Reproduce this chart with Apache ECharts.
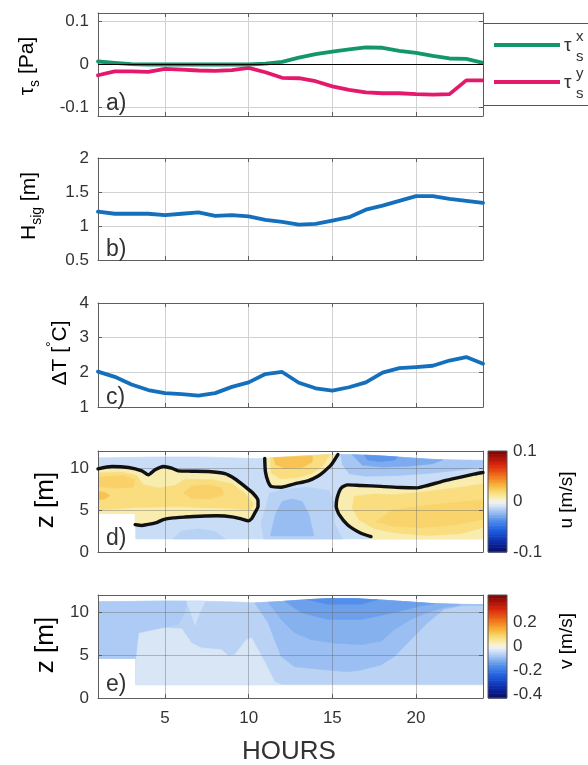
<!DOCTYPE html>
<html>
<head>
<meta charset="utf-8">
<script src="https://cdn.jsdelivr.net/npm/echarts@6/dist/echarts.min.js"></script>
<style>
  html, body { margin: 0; padding: 0; background: #ffffff; }
  #chart { width: 588px; height: 765px; }
</style>
</head>
<body>
<div id="chart"></div>
<script>
// ---------- time series (hourly) ----------
const hours  = [1, 2, 3, 4, 5, 6, 7, 8, 9, 10, 11, 12, 13, 14, 15, 16, 17, 18, 19, 20, 21, 22, 23, 24];
const tauX   = [0.007, 0.004, 0.001, 0.000, 0.000, 0.000, 0.000, 0.000, 0.000, 0.000, 0.002, 0.006,
                0.016, 0.024, 0.030, 0.035, 0.040, 0.039, 0.032, 0.027, 0.020, 0.014, 0.013, 0.004];
const tauY   = [-0.025, -0.016, -0.016, -0.017, -0.010, -0.012, -0.014, -0.015, -0.013, -0.008, -0.018, -0.031,
                -0.032, -0.039, -0.051, -0.059, -0.065, -0.067, -0.067, -0.069, -0.070, -0.069, -0.037, -0.037];
const hsig   = [1.21, 1.18, 1.18, 1.18, 1.16, 1.18, 1.20, 1.15, 1.16, 1.14, 1.09, 1.06,
                1.02, 1.03, 1.08, 1.13, 1.24, 1.30, 1.37, 1.44, 1.44, 1.40, 1.37, 1.34];
const deltaT = [2.02, 1.87, 1.65, 1.49, 1.40, 1.37, 1.33, 1.40, 1.58, 1.71, 1.95, 2.01,
                1.70, 1.54, 1.47, 1.57, 1.71, 1.99, 2.12, 2.15, 2.19, 2.34, 2.44, 2.25];

// ---------- axis ticks ----------
const hourTicks = [5, 10, 15, 20];
const tauTicks  = [-0.1, 0, 0.1];
const hsTicks   = [0.5, 1, 1.5, 2];
const dtTicks   = [1, 2, 3, 4];
const zTicks    = [0, 5, 10];
const uTicks    = [-0.1, 0, 0.1];
const vTicks    = [-0.4, -0.2, 0, 0.2];
const uRange    = [-0.1, 0.1];
const vRange    = [-0.43, 0.43];

// ---------- velocity sections: [hour, z] outlines ----------
const surfaceTop     = [[1, 11.2], [3, 11.25], [5, 11.3], [7, 11.3], [9, 11.2], [10.5, 11.1], [12, 11.25], [13.5, 11.45],
                        [15, 11.6], [16.5, 11.55], [18, 11.4], [19.5, 11.2], [21, 11.0], [22.5, 10.92], [24, 10.88]];
const coverageBottom = [[24, 1.55], [3.25, 1.55], [3.25, 4.6], [1, 4.6]];
const coverage       = surfaceTop.concat(coverageBottom);

// u = 0 contours
const uZeroA = [[1, 9.88], [1.83, 10.16], [2.82, 10.04], [3.62, 9.64], [4.01, 9.17], [4.41, 9.76], [4.91, 10.16],
                [5.4, 9.96], [5.8, 9.64], [6.59, 9.6], [7.59, 9.56], [8.58, 9.3], [9.17, 8.7], [9.77, 7.8], [10.26, 6.98],
                [10.56, 6.1], [10.56, 5.4], [10.36, 4.6], [10.17, 3.95], [9.97, 3.7], [9.6, 3.9], [9.1, 4.15],
                [8.1, 4.3], [7.1, 4.25], [6.2, 4.15], [5.5, 4.05], [4.9, 3.85], [4.5, 3.5], [3.91, 3.25], [3.62, 3.15], [3.22, 3.25]];
const uZeroB = [[10.96, 11.12], [11.0, 9.56], [11.16, 8.37], [11.36, 7.78], [11.95, 7.7], [12.74, 8.1], [13.54, 8.45],
                [14.13, 9.0], [14.53, 9.6], [14.93, 10.36], [15.33, 11.58]];
const uZeroC = [[17.31, 1.83], [16.71, 2.23], [15.92, 3.21], [15.42, 4.4], [15.23, 5.4], [15.28, 6.39], [15.52, 7.58],
                [15.92, 7.98], [16.71, 7.9], [17.9, 7.8], [19.1, 7.66], [20.09, 7.62], [20.68, 7.9], [21.67, 8.45],
                [22.67, 8.9], [23.46, 9.25], [24, 9.45]];

// u fill patches
const uBlobA     = uZeroA.concat([[3.22, 4.6], [1, 4.6]]);
const uBlobB     = uZeroB.concat([[15, 11.6], [13.5, 11.45], [12, 11.25]]);
const uBlobC     = [[17.31, 1.55]].concat(uZeroC, [[24, 1.55]]);
const uCoreA     = [[1, 9.4], [2.4, 9.5], [3.3, 9.1], [3.7, 8.0], [4.6, 7.6], [5.6, 7.9], [6.2, 8.6], [7.8, 8.6],
                    [9.0, 8.1], [9.8, 6.9], [10.3, 5.7], [10.1, 5.0], [8.8, 5.2], [7, 5.3], [5.8, 5.4], [3.2, 5.3], [1, 5.0]];
const uSpotA1    = [[1, 6.2], [1.4, 6.3], [1.7, 6.7], [1.4, 7.1], [1, 7.2]];
const uSpotA2    = [[6.1, 7.0], [6.6, 7.8], [7.6, 8.0], [8.4, 7.6], [8.5, 6.8], [7.6, 6.3], [6.6, 6.4]];
const uSpotA3    = [[1, 8.9], [2.5, 9.1], [3.2, 8.6], [3.1, 7.7], [2.0, 7.6], [1, 7.8]];
const uCoreB     = [[11.3, 11.2], [11.35, 9.4], [11.9, 8.7], [12.9, 8.85], [13.8, 9.35], [14.45, 10.3], [14.85, 11.58],
                    [13.5, 11.45], [12, 11.25]];
const uSpotB     = [[11.5, 11.22], [11.6, 10.4], [12.2, 9.95], [13.2, 10.05], [13.8, 10.7], [13.8, 11.42], [12.5, 11.3]];
const uCoreC     = [[16.3, 6.6], [17.5, 6.9], [18.7, 6.8], [20.7, 7.2], [22.7, 7.7], [24, 8.1], [24, 2.9], [22.7, 2.2],
                    [20.7, 1.95], [18.7, 2.3], [17.5, 2.8], [16.6, 3.8], [16.2, 5.2]];
const uSpotC     = [[17.6, 3.6], [18.6, 5.0], [20.5, 5.5], [22.5, 5.9], [24, 6.2], [24, 3.9], [22.2, 3.2], [20.2, 2.9], [18.6, 3.1]];
const uBlueLowL  = [[5.5, 1.55], [6, 2.5], [7, 2.75], [8, 2.45], [8.6, 1.55]];
const uBlueMid   = [[10.9, 1.55], [10.75, 3.5], [11.05, 5.5], [11.25, 7.0], [12.0, 7.4], [13.5, 7.7], [14.8, 7.3],
                    [15.15, 5.5], [15.1, 3.5], [15.6, 1.55]];
const uBlueCore  = [[11.3, 1.9], [11.6, 4.5], [12.0, 6.0], [12.6, 6.3], [13.2, 6.0], [13.6, 4.5], [13.9, 1.9]];
const uBlueTopR  = [[15.5, 11.6], [16.5, 11.55], [18, 11.4], [19.5, 11.2], [21, 11.0], [22.5, 10.92], [24, 10.88],
                    [24, 10.1], [22.5, 9.7], [21, 9.4], [19, 9.1], [17, 9.0], [16, 9.3], [15.6, 10.4]];
const uBlueTopR2 = [[16.2, 11.56], [18, 11.4], [19.5, 11.2], [21, 11.0], [21.6, 10.96], [21, 10.5], [19.5, 10.2],
                    [18, 10.1], [16.8, 10.3]];
const uBlueTopR3 = [[16.9, 11.52], [18, 11.4], [18.9, 11.28], [18.7, 10.9], [17.8, 10.75], [17.1, 10.95]];

// v fill patches
const vLight = [[3.25, 4.6], [3.42, 7.59], [4.81, 8.17], [6.0, 8.06], [6.59, 6.4], [7.19, 5.82], [8.38, 5.62], [8.78, 4.91],
                [9.17, 5.03], [9.87, 6.8], [10.17, 7.0], [10.56, 5.62], [11.16, 3.45], [11.55, 1.87], [11.95, 1.55], [3.25, 1.55]];
const vLeft  = [[1, 4.6], [3.25, 4.6], [3.42, 7.59], [4.81, 8.17], [5.8, 8.6], [6.2, 10.0], [6.3, 11.28], [5, 11.3],
                [3, 11.25], [1, 11.2]];
const vWedge = [[6.3, 11.28], [6.55, 9.9], [6.8, 8.5], [7.05, 9.8], [7.4, 11.26]];
const vD1    = [[10.36, 11.08], [11.16, 8.77], [11.55, 6.8], [11.95, 4.83], [12.74, 3.65], [14.73, 3.25], [15.92, 3.05],
                [16.71, 3.25], [17.9, 3.84], [18.7, 4.83], [19.69, 6.8], [20.68, 8.77], [21.67, 10.34], [22.67, 10.74],
                [23.66, 10.8], [24, 10.82], [24, 10.88], [22.5, 10.92], [21, 11.0], [19.5, 11.2], [18, 11.4],
                [16.5, 11.55], [15, 11.6], [13.5, 11.45], [12, 11.25], [10.5, 11.1]];
const vD2    = [[11.16, 11.15], [11.95, 9.16], [12.74, 7.59], [13.74, 6.8], [15.12, 6.4], [16.71, 6.21], [17.9, 6.6],
                [18.7, 7.98], [19.69, 9.16], [20.68, 9.95], [21.67, 10.54], [22.67, 10.85], [22.5, 10.92], [21, 11.0],
                [19.5, 11.2], [18, 11.4], [16.5, 11.55], [15, 11.6], [13.5, 11.45], [12, 11.25]];
const vD3    = [[12.15, 11.27], [13.14, 9.95], [14.73, 9.16], [16.71, 9.16], [18.7, 9.95], [20.29, 10.74], [21.1, 10.99],
                [19.5, 11.2], [18, 11.4], [16.5, 11.55], [15, 11.6], [13.5, 11.45]];
const vD4    = [[13.54, 11.46], [14.73, 10.93], [16.71, 10.93], [17.7, 11.45], [16.5, 11.55], [15, 11.6]];

// level of each patch, painted in order
const uLayers = [
  [-0.010, coverage], [-0.014, uBlueLowL], [-0.014, uBlueMid], [-0.021, uBlueCore],
  [-0.018, uBlueTopR], [-0.027, uBlueTopR2], [-0.034, uBlueTopR3],
  [0.009, uBlobA], [0.018, uCoreA], [0.023, uSpotA2], [0.023, uSpotA3], [0.028, uSpotA1],
  [0.009, uBlobB], [0.018, uCoreB], [0.028, uSpotB],
  [0.009, uBlobC], [0.018, uCoreC], [0.022, uSpotC]
];
const vLayers = [
  [-0.058, coverage], [-0.027, vLight], [-0.07, vLeft], [-0.038, vWedge],
  [-0.088, vD1], [-0.108, vD2], [-0.132, vD3], [-0.157, vD4]
];

// ---------- styling ----------
const FONT = "'Liberation Sans', Arial, Helvetica, sans-serif";
const TXT = '#333333';
const BOX = '#5e5e5e';
const GREEN = '#13976a';
const RED = '#e5196b';
const BLUE = '#1470bd';

// diverging blue-white-yellow-red colour map, fraction 0..1
const cmapStops = [
  [0.00, [10, 12, 94]], [0.10, [12, 42, 168]], [0.22, [30, 94, 224]], [0.32, [84, 144, 234]],
  [0.40, [157, 192, 242]], [0.46, [210, 227, 248]], [0.50, [243, 243, 238]], [0.54, [248, 238, 179]],
  [0.60, [249, 218, 117]], [0.67, [247, 178, 58]], [0.76, [240, 112, 24]], [0.87, [216, 36, 12]], [1.00, [126, 3, 3]]
];
function colorAt(f) {
  f = Math.max(0, Math.min(1, f));
  for (let i = 1; i < cmapStops.length; i++) {
    if (f <= cmapStops[i][0]) {
      const a = cmapStops[i - 1], b = cmapStops[i];
      const t = (f - a[0]) / (b[0] - a[0]);
      const c = a[1].map((v, k) => Math.round(v + (b[1][k] - v) * t));
      return 'rgb(' + c.join(',') + ')';
    }
  }
  return 'rgb(126,3,3)';
}

const grids = [
  { left: 98, top: 13,  width: 385, height: 103 },
  { left: 98, top: 158, width: 385, height: 102 },
  { left: 98, top: 303, width: 385, height: 104 },
  { left: 98, top: 451, width: 385, height: 101 },
  { left: 98, top: 595, width: 385, height: 103 },
  { left: 488, top: 451, width: 19, height: 101 },
  { left: 488, top: 595, width: 19, height: 103 }
];

function xAxisPair(gi, labels, zz, gridColor) {
  const base = {
    type: 'value', gridIndex: gi, min: 1, max: 24, z: zz,
    axisLine: { show: true, onZero: false, lineStyle: { color: BOX, width: 1 } },
    axisTick: { show: true, inside: true, length: 4, customValues: hourTicks, lineStyle: { color: BOX } }
  };
  return [
    Object.assign({}, base, {
      position: 'bottom',
      axisLabel: { show: labels, customValues: hourTicks, margin: 12, fontSize: 17, color: TXT, fontFamily: FONT },
      splitLine: { show: true, lineStyle: { color: gridColor, width: 1 } }
    }),
    Object.assign({}, base, { position: 'top', axisLabel: { show: false }, splitLine: { show: false } })
  ];
}
function yAxisPair(gi, min, max, ticks, zz, gridColor) {
  const base = {
    type: 'value', gridIndex: gi, min: min, max: max, z: zz,
    axisLine: { show: true, onZero: false, lineStyle: { color: BOX, width: 1 } },
    axisTick: { show: true, inside: true, length: 4, customValues: ticks, lineStyle: { color: BOX } }
  };
  return [
    Object.assign({}, base, {
      position: 'left',
      axisLabel: { show: true, customValues: ticks, margin: 9, fontSize: 17, color: TXT, fontFamily: FONT },
      splitLine: { show: true, lineStyle: { color: gridColor, width: 1 } }
    }),
    Object.assign({}, base, { position: 'right', axisLabel: { show: false }, splitLine: { show: false } })
  ];
}

const lineGrid = '#d2d2d2';
const fillGrid = 'rgba(100,100,100,0.4)';
const xAxes = [].concat(
  xAxisPair(0, false, 0, lineGrid), xAxisPair(1, false, 0, lineGrid), xAxisPair(2, false, 0, lineGrid),
  xAxisPair(3, false, 3, fillGrid), xAxisPair(4, true, 3, fillGrid),
  [{ type: 'value', gridIndex: 5, min: 0, max: 1, show: false },
   { type: 'value', gridIndex: 6, min: 0, max: 1, show: false }]
);
function cbAxis(gi, range, ticks) {
  return {
    type: 'value', gridIndex: gi, position: 'right', min: range[0], max: range[1],
    axisLine: { show: false }, axisTick: { show: false }, splitLine: { show: false },
    axisLabel: { show: true, customValues: ticks, margin: 6, fontSize: 17, color: TXT, fontFamily: FONT }
  };
}
const yAxes = [].concat(
  yAxisPair(0, -0.12, 0.12, tauTicks, 0, lineGrid),
  yAxisPair(1, 0.5, 2, hsTicks, 0, lineGrid),
  yAxisPair(2, 1, 4, dtTicks, 0, lineGrid),
  yAxisPair(3, 0, 12, zTicks, 3, fillGrid),
  yAxisPair(4, 0, 12, zTicks, 3, fillGrid),
  [cbAxis(5, uRange, uTicks), cbAxis(6, vRange, vTicks)]
);

function pairs(ys) { return hours.map((h, i) => [h, ys[i]]); }
function lineSeries(name, axis, ys, color, extra) {
  return Object.assign({
    name: name, type: 'line', xAxisIndex: axis, yAxisIndex: axis, data: pairs(ys),
    showSymbol: false, symbol: 'none', smooth: false, z: 3, silent: true,
    lineStyle: { color: color, width: 3.8, join: 'round', cap: 'round' }
  }, extra || {});
}
function fillSeries(axis, layers, range) {
  return {
    type: 'custom', xAxisIndex: axis, yAxisIndex: axis, z: 1, silent: true, clip: true,
    data: layers.map((L, i) => [i, L[0]]),
    renderItem: function (params, api) {
      const L = layers[params.dataIndex];
      const col = colorAt((L[0] - range[0]) / (range[1] - range[0]));
      return {
        type: 'polygon',
        shape: { points: L[1].map(p => api.coord(p)) },
        style: { fill: col, stroke: col, lineWidth: 0.6 }
      };
    }
  };
}
function contourSeries(axis, pts) {
  return {
    type: 'line', xAxisIndex: axis, yAxisIndex: axis, data: pts, z: 5, silent: true,
    showSymbol: false, symbol: 'none', smooth: 0.2,
    lineStyle: { color: '#111111', width: 3.4, join: 'round', cap: 'round' }
  };
}
const cbSteps = 64;
function colorbarSeries(axis, range) {
  const items = [];
  for (let k = 0; k <= cbSteps; k++) items.push([0.5, k]);
  return {
    type: 'custom', xAxisIndex: axis, yAxisIndex: axis, silent: true, z: 2, data: items,
    renderItem: function (params, api) {
      const k = params.dataIndex;
      if (k === cbSteps) {
        const a = api.coord([0, range[1]]), b = api.coord([1, range[0]]);
        return { type: 'rect', shape: { x: a[0], y: a[1], width: b[0] - a[0], height: b[1] - a[1] },
                 style: { fill: 'none', stroke: '#555555', lineWidth: 1 }, z2: 10 };
      }
      const v0 = range[0] + (range[1] - range[0]) * k / cbSteps;
      const v1 = range[0] + (range[1] - range[0]) * (k + 1) / cbSteps;
      const p0 = api.coord([0, v0]), p1 = api.coord([1, v1]);
      return { type: 'rect', shape: { x: p0[0], y: p1[1], width: p1[0] - p0[0], height: p0[1] - p1[1] + 0.6 },
               style: { fill: colorAt((k + 0.5) / cbSteps) } };
    }
  };
}

const series = [
  lineSeries('tauY', 0, tauY, RED),
  lineSeries('tauX', 0, tauX, GREEN, {
    markLine: { silent: true, symbol: 'none', label: { show: false }, data: [{ yAxis: 0 }],
                lineStyle: { color: '#000000', width: 1.2, type: 'solid' } }
  }),
  lineSeries('hsig', 2, hsig, BLUE),
  lineSeries('deltaT', 4, deltaT, BLUE),
  fillSeries(6, uLayers, uRange),
  contourSeries(6, uZeroA), contourSeries(6, uZeroB), contourSeries(6, uZeroC),
  fillSeries(8, vLayers, vRange),
  colorbarSeries(10, uRange),
  colorbarSeries(11, vRange)
];

function label(x, y, text, size, extra) {
  return Object.assign({ type: 'text', x: x, y: y, z: 50,
    style: { text: text, fontSize: size, fontFamily: FONT, fill: TXT, align: 'left', verticalAlign: 'middle' } }, extra || {});
}
function vTitle(x, y, text, rich) {
  return { type: 'text', x: x, y: y, rotation: Math.PI / 2, z: 50,
    style: { text: text, rich: rich, align: 'center', verticalAlign: 'middle' } };
}
const richTitle = {
  m:   { fontSize: 21, fontFamily: FONT, color: TXT, lineHeight: 30, verticalAlign: 'middle' },
  s:   { fontSize: 14, fontFamily: FONT, color: TXT, verticalAlign: 'bottom' },
  sup: { fontSize: 14, fontFamily: FONT, color: TXT, verticalAlign: 'top' },
  z:   { fontSize: 26, fontFamily: FONT, color: TXT, lineHeight: 30, verticalAlign: 'middle' },
  c:   { fontSize: 19, fontFamily: FONT, color: TXT, lineHeight: 24, verticalAlign: 'middle' }
};

const graphic = [
  // legend
  { type: 'rect', z: 40, shape: { x: 483.5, y: 23.5, width: 110, height: 82 },
    style: { fill: '#ffffff', stroke: '#555555', lineWidth: 1 } },
  { type: 'line', z: 41, shape: { x1: 494, y1: 45, x2: 560, y2: 45 }, style: { stroke: GREEN, lineWidth: 3.8 } },
  { type: 'line', z: 41, shape: { x1: 494, y1: 82, x2: 560, y2: 82 }, style: { stroke: RED, lineWidth: 3.8 } },
  label(564, 46, 'τ', 19), label(576, 37, 'x', 15), label(576, 57, 's', 15),
  label(564, 83, 'τ', 19), label(576, 74, 'y', 15), label(576, 94, 's', 15),
  // panel letters
  label(106, 104, 'a)', 23), label(106, 250, 'b)', 23), label(106, 398, 'c)', 23),
  label(106, 539, 'd)', 23), label(106, 685, 'e)', 23),
  // axis titles
  vTitle(27, 66, '{m|τ}{s|s}{m| [Pa]}', richTitle),
  vTitle(29, 206, '{m|H}{s|sig}{m| [m]}', richTitle),
  vTitle(60, 353, '{m|ΔT [}{sup|°}{m|C]}', richTitle),
  vTitle(46, 500, '{z|z [m]}', richTitle),
  vTitle(46, 645, '{z|z [m]}', richTitle),
  vTitle(567, 500, '{c|u [m/s]}', richTitle),
  vTitle(567, 641, '{c|v [m/s]}', richTitle),
  label(289, 752, 'HOURS', 26, { style: { text: 'HOURS', fontSize: 26, fontFamily: FONT, fill: TXT,
                                           align: 'center', verticalAlign: 'middle' } })
];

const chart = echarts.init(document.getElementById('chart'), null, { renderer: 'canvas' });
chart.setOption({
  animation: false,
  backgroundColor: '#ffffff',
  grid: grids,
  xAxis: xAxes,
  yAxis: yAxes,
  series: series,
  graphic: graphic
});
</script>
</body>
</html>
